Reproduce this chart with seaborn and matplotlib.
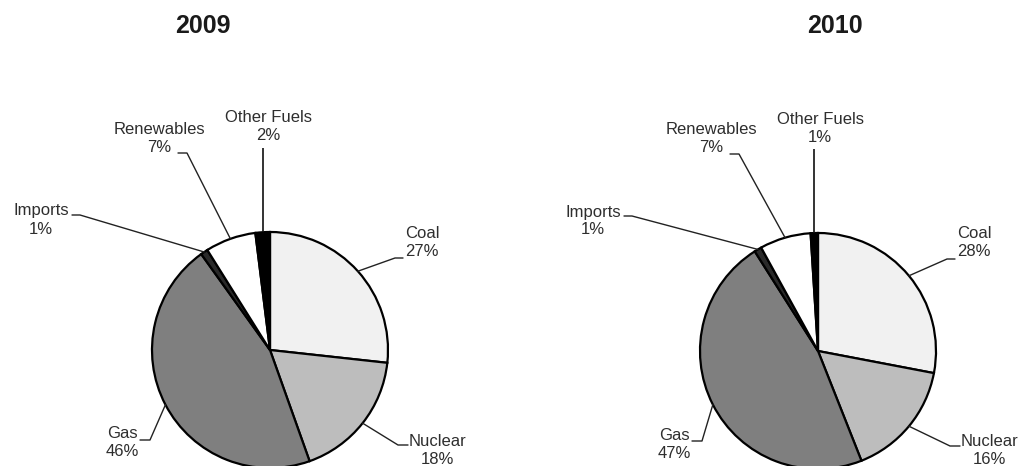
import matplotlib
matplotlib.use("Agg")
import matplotlib.pyplot as plt
import numpy as np
import seaborn as sns

# Fuel mix shares (%), drawn clockwise from 12 o'clock
fuels = ["Coal", "Nuclear", "Gas", "Imports", "Renewables", "Other Fuels"]
share_2009 = [27, 18, 46, 1, 7, 2]
share_2010 = [28, 16, 47, 1, 7, 1]
years = ["2009", "2010"]

fuel_colors = ["#f1f1f1", "#bdbdbd", "#7f7f7f", "#2a2a2a", "#ffffff", "#000000"]

sns.set_theme(style="white")
plt.rcParams["font.family"] = ["Liberation Sans", "DejaVu Sans"]

W, H = 1021, 466
fig = plt.figure(figsize=(W / 100, H / 100), dpi=100)
ax = fig.add_axes([0, 0, 1, 1])

# layout in pixels (x right, y down)
R = 118
centers = [(270, 350), (818, 351)]
title_x = [203, 835]
label_shift = [0, 4]

# label offsets from the pie centre: text centre, leader start, leader elbow
label_layout = {
    "Coal":        ((152, -108), (133, -92), (125, -92)),
    "Nuclear":     ((167, 100), (138, 95), (128, 95)),
    "Gas":         ((-148, 93), (-130, 90), (-120, 90)),
    "Imports":     ((-229, -130), (-198, -135), (-190, -135)),
    "Renewables":  ((-111, -212), (-92, -197), (-83, -197)),
    "Other Fuels": ((-2, -223), None, None),
}


def to_data(px, py):
    return px, H - py


for year, shares, (cx, cy), tx, shift in zip(years, [share_2009, share_2010],
                                             centers, title_x, label_shift):
    dcx, dcy = to_data(cx, cy)
    ax.pie(shares, colors=fuel_colors, startangle=90, counterclock=False,
           center=(dcx, dcy), radius=R,
           wedgeprops=dict(edgecolor="black", linewidth=1.6))
    ax.text(*to_data(tx, 26), year, ha="center", va="center",
            fontsize=18, fontweight="bold", color="#1a1a1a")

    total = float(sum(shares))
    cum = np.cumsum([0] + list(shares))
    for i, fuel in enumerate(fuels):
        mid = (cum[i] + cum[i + 1]) / 2 / total
        theta = np.deg2rad(90 - 360 * mid)
        ex, ey = dcx + R * np.cos(theta), dcy + R * np.sin(theta)

        (tdx, tdy), start, elbow = label_layout[fuel]
        lx, ly = to_data(cx + tdx + shift, cy + tdy)
        ax.text(lx, ly, f"{fuel}\n{shares[i]}%", ha="center", va="center",
                multialignment="center", fontsize=12, linespacing=1.25,
                color="#2e2e2e")

        if start is None:
            # straight vertical leader from below the label
            sx, sy = ex, to_data(0, cy - 202)[1]
            ax.plot([sx, ex], [sy, ey], color="#111111", lw=1.2,
                    solid_capstyle="butt")
        else:
            sx, sy = to_data(cx + start[0] + shift, cy + start[1])
            bx, by = to_data(cx + elbow[0] + shift, cy + elbow[1])
            ax.plot([sx, bx, ex], [sy, by, ey], color="#222222", lw=1.0)

ax.set_xlim(0, W)
ax.set_ylim(0, H)
ax.set_aspect("auto")
ax.axis("off")

fig.savefig("out.png", dpi=100, facecolor="white")
